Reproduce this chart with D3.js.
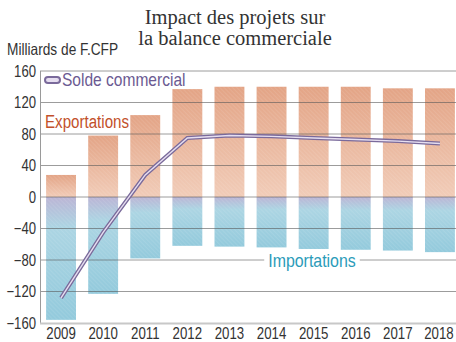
<!DOCTYPE html>
<html>
<head>
<meta charset="utf-8">
<script src="https://cdn.jsdelivr.net/npm/d3@7"></script>
<style>
  html, body { margin: 0; padding: 0; background: #fff; }
  svg { display: block; }
</style>
</head>
<body>
<svg id="chart" width="456" height="342"></svg>
<script>
// Trade balance, billions of F.CFP
const years = ["2009","2010","2011","2012","2013","2014","2015","2016","2017","2018"];
const exportations = [28, 78, 104, 137, 140, 140, 140, 140, 138, 138];
const importations = [-156, -123, -78, -62, -63, -64, -66, -67, -68, -70];
const solde = [-128, -45, 28, 75, 78, 77, 75, 73, 71, 68];
const yTicks = [-160, -120, -80, -40, 0, 40, 80, 120, 160];

const SANS = '"Liberation Sans", Arial, sans-serif';
// condense a sans label horizontally, like a narrow face
function narrow(sel, k = 0.82) {
  sel.style("font-family", SANS).each(function () {
    const w = this.getComputedTextLength();
    d3.select(this).attr("textLength", w * k).attr("lengthAdjust", "spacingAndGlyphs");
  });
  return sel;
}

const svg = d3.select("#chart");
const defs = svg.append("defs");

const x = d3.scaleBand().domain(years).range([40, 461]).paddingInner(0.29).paddingOuter(0.145);
const y = d3.scaleLinear().domain([-160, 160]).range([323, 71]);

// Bar fills
const gExp = defs.append("linearGradient").attr("id", "gExp")
  .attr("x1", 0).attr("y1", 0).attr("x2", 0).attr("y2", 1);
gExp.append("stop").attr("offset", "0%").attr("stop-color", "#e3a486");
gExp.append("stop").attr("offset", "100%").attr("stop-color", "#f1ccb8");

const gImp = defs.append("linearGradient").attr("id", "gImp")
  .attr("x1", 0).attr("y1", 0).attr("x2", 0).attr("y2", 1);
gImp.append("stop").attr("offset", "0%").attr("stop-color", "#bbb5d5");
gImp.append("stop").attr("offset", "25%").attr("stop-color", "#acd5e3");
gImp.append("stop").attr("offset", "100%").attr("stop-color", "#93cadc");

const hatch = defs.append("pattern").attr("id", "hatch")
  .attr("width", 3).attr("height", 3).attr("patternUnits", "userSpaceOnUse")
  .attr("patternTransform", "rotate(-45)");
hatch.append("line").attr("x1", 0).attr("y1", 0).attr("x2", 0).attr("y2", 3)
  .attr("stroke", "#fff").attr("stroke-width", 1).attr("opacity", 0.18);

// Bars
const bars = svg.append("g");
bars.selectAll(".exp").data(years).join("rect")
  .attr("x", d => x(d)).attr("width", x.bandwidth())
  .attr("y", (d, i) => y(exportations[i])).attr("height", (d, i) => y(0) - y(exportations[i]))
  .attr("fill", "url(#gExp)");
bars.selectAll(".imp").data(years).join("rect")
  .attr("x", d => x(d)).attr("width", x.bandwidth())
  .attr("y", y(0)).attr("height", (d, i) => y(importations[i]) - y(0))
  .attr("fill", "url(#gImp)");
bars.selectAll(".hx").data(years).join("rect")
  .attr("x", d => x(d)).attr("width", x.bandwidth())
  .attr("y", (d, i) => y(exportations[i])).attr("height", (d, i) => y(importations[i]) - y(exportations[i]))
  .attr("fill", "url(#hatch)");

// Grid lines
const grid = svg.append("g");
grid.selectAll("line").data(yTicks.filter(t => t > -160)).join("line")
  .attr("x1", 40).attr("x2", 456)
  .attr("y1", d => y(d)).attr("y2", d => y(d))
  .attr("stroke", "#5a5a5a").attr("stroke-opacity", 0.6).attr("stroke-width", 1);
// left axis and baseline
svg.append("line").attr("x1", 40.5).attr("x2", 40.5).attr("y1", y(160)).attr("y2", y(-160))
  .attr("stroke", "#9a9a9a");
svg.append("line").attr("x1", 40).attr("x2", 456).attr("y1", y(-160) + 0.5).attr("y2", y(-160) + 0.5)
  .attr("stroke", "#c8c8c8").attr("stroke-width", 2);

// Y tick labels
const yAxis = d3.axisLeft(y).tickValues(yTicks).tickSize(0).tickPadding(4);
const ya = svg.append("g").attr("transform", "translate(40,0)").call(yAxis);
ya.select(".domain").remove();
ya.selectAll("text").attr("font-size", 16).attr("fill", "#333").call(narrow);

// X labels (squeezed around each tick's centre)
const xAxis = d3.axisBottom(x).tickSize(0).tickPadding(4);
const xa = svg.append("g").attr("transform", `translate(0,${y(-160)})`).call(xAxis);
xa.select(".domain").remove();
xa.selectAll("text").attr("font-size", 17).attr("fill", "#333")
  .style("font-family", SANS).attr("transform", "scale(0.78,1)");
xa.selectAll(".tick").filter(d => d === "2018").attr("transform", `translate(${x("2018") + x.bandwidth() / 2 - 1},0)`);

// Solde line: dark tube with light core
const line = d3.line().x((d, i) => x(years[i]) + x.bandwidth() / 2).y(d => y(d));
svg.append("path").datum(solde).attr("d", line).attr("fill", "none")
  .attr("stroke", "#7a6a9b").attr("stroke-width", 4);
svg.append("path").datum(solde).attr("d", line).attr("fill", "none")
  .attr("stroke", "#e6def0").attr("stroke-width", 1.4);

// Legend
svg.append("rect").attr("x", 45).attr("y", 77).attr("width", 15).attr("height", 6).attr("rx", 3)
  .attr("fill", "#e6def0").attr("stroke", "#7a6a9b").attr("stroke-width", 2);
svg.append("text").attr("x", 62).attr("y", 86)
  .attr("font-size", 18.5).attr("fill", "#6b5a92").text("Solde commercial").call(narrow, 0.84);

// Series labels
svg.append("text").attr("x", 45).attr("y", 128)
  .attr("font-size", 18).attr("fill", "#c2502a").text("Exportations").call(narrow, 0.84);
const impLabel = svg.append("text").attr("x", 312).attr("y", y(-80) + 6.5)
  .attr("text-anchor", "middle").attr("font-size", 18.5).attr("fill", "#2b9bb9")
  .text("Importations").call(narrow, 0.86);
const bb = impLabel.node().getBBox();
svg.insert("rect", () => impLabel.node()).attr("x", bb.x - 4).attr("y", y(-80) - 2)
  .attr("width", bb.width + 8).attr("height", 4).attr("fill", "#fff");

// Unit label
svg.append("text").attr("x", 7).attr("y", 55)
  .attr("font-size", 16.5).attr("fill", "#333").text("Milliards de F.CFP").call(narrow, 0.83);

// Title
const title = svg.append("text").attr("text-anchor", "middle")
  .style("font-family", '"Liberation Serif", "DejaVu Serif", serif')
  .attr("font-size", 20.5).attr("fill", "#333");
title.append("tspan").attr("x", 235).attr("y", 24).text("Impact des projets sur");
title.append("tspan").attr("x", 235).attr("y", 45).text("la balance commerciale");
</script>
</body>
</html>
